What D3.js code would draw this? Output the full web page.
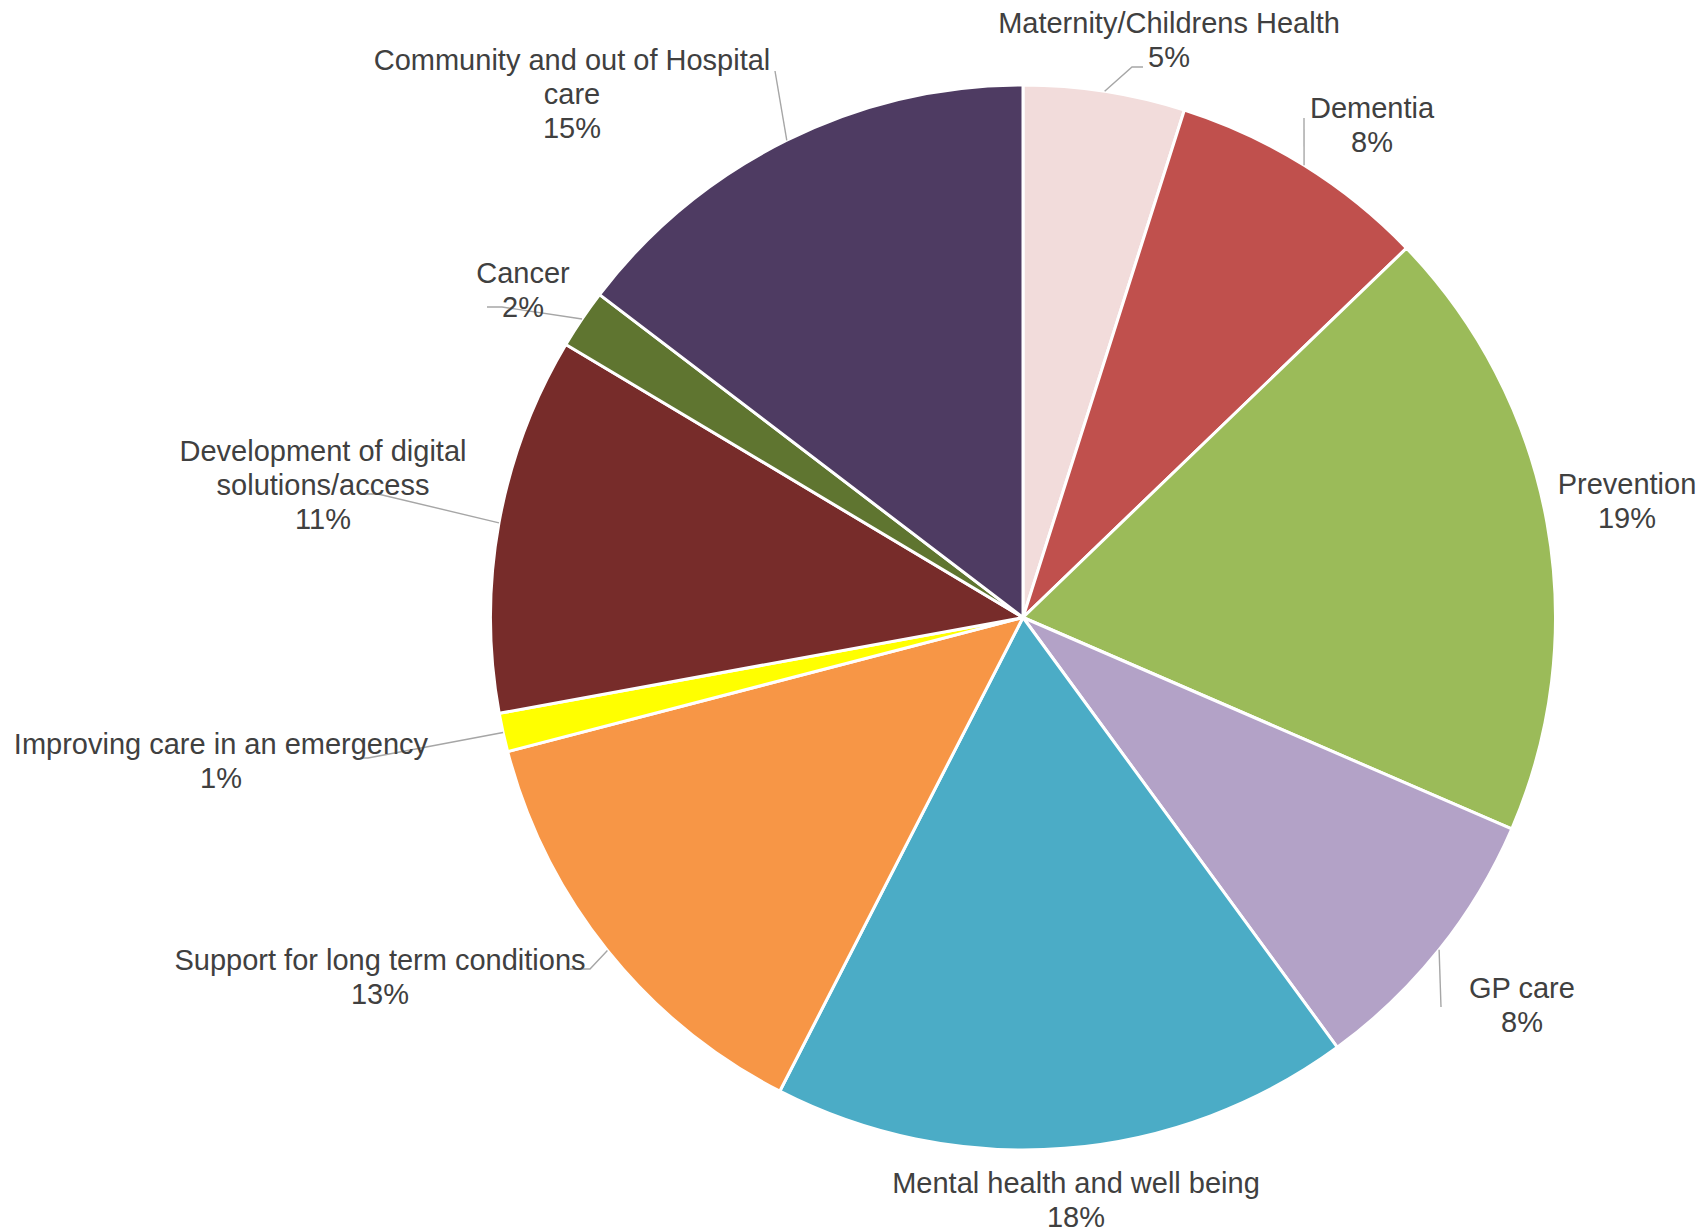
<!DOCTYPE html>
<html>
<head>
<meta charset="utf-8">
<script src="https://cdn.jsdelivr.net/npm/d3@7"></script>
<style>
  html, body { margin: 0; padding: 0; background: #ffffff; }
  svg { display: block; }
</style>
</head>
<body>
<svg id="chart" width="1703" height="1232"></svg>
<script>
// ---- data ----
const categories = [
  "Maternity/Childrens Health",
  "Dementia",
  "Prevention",
  "GP care",
  "Mental health and well being",
  "Support for long term conditions",
  "Improving care in an emergency",
  "Development of digital solutions/access",
  "Cancer",
  "Community and out of Hospital care"
];
const values = [4.9, 7.9, 18.7, 8.45, 17.6, 13.4, 1.17, 11.45, 1.8, 14.63];
const colors = ["#F2DCDB", "#C0504D", "#9BBB59", "#B3A2C7", "#4BACC6",
                "#F79646", "#FFFF00", "#772C2A", "#5F7530", "#4E3B62"];
const labelLines = [
  ["Maternity/Childrens Health"],
  ["Dementia"],
  ["Prevention"],
  ["GP care"],
  ["Mental health and well being"],
  ["Support for long term conditions"],
  ["Improving care in an emergency"],
  ["Development of digital", "solutions/access"],
  ["Cancer"],
  ["Community and out of Hospital", "care"]
];

// ---- layout (label anchors: centre x, first baseline y) ----
const labelAnchors = [
  [1169, 33], [1372, 118], [1627, 494], [1522, 998], [1076, 1193],
  [380, 970], [221, 754], [323, 461], [523, 283], [572, 70]
];
// leader lines: list of points after the slice-edge point (null = none)
const leaderPaths = [
  [[1132, 67], [1143, 67]],
  [[1304, 118]],
  null,
  [[1441, 1007]],
  null,
  [[590, 969], [570, 969]],
  [[368, 758], [360, 758]],
  [[378, 494], [360, 494]],
  [[502, 307], [487, 307]],
  [[775, 71]]
];

const W = 1703, H = 1232;
const cx = 1023, cy = 617.5, R = 532.5;
const fontSize = 29, lineH = 34;

const svg = d3.select("#chart");
const total = d3.sum(values);
const data = categories.map((c, i) => ({ name: c, value: values[i], i }));

const pie = d3.pie().value(d => d.value).sort(null);
const arcs = pie(data);
const arc = d3.arc().innerRadius(0).outerRadius(R);

const g = svg.append("g").attr("transform", `translate(${cx},${cy})`);
g.selectAll("path.slice")
  .data(arcs)
  .enter().append("path")
  .attr("class", "slice")
  .attr("d", arc)
  .attr("fill", d => colors[d.data.i])
  .attr("stroke", "#ffffff")
  .attr("stroke-width", 3)
  .attr("stroke-linejoin", "round");

// leader lines
const line = d3.line();
arcs.forEach(a => {
  const pts = leaderPaths[a.data.i];
  if (!pts) return;
  const mid = (a.startAngle + a.endAngle) / 2;
  const start = [cx + R * Math.sin(mid), cy - R * Math.cos(mid)];
  svg.append("path")
    .attr("d", line([start, ...pts]))
    .attr("fill", "none")
    .attr("stroke", "#A6A6A6")
    .attr("stroke-width", 1.4);
});

// labels
const pct = v => Math.round(v / total * 100) + "%";
arcs.forEach(a => {
  const i = a.data.i;
  const [x, y] = labelAnchors[i];
  const lines = labelLines[i].concat([pct(a.data.value)]);
  const t = svg.append("text")
    .attr("x", x).attr("y", y)
    .attr("text-anchor", "middle")
    .attr("font-family", "Liberation Sans, Arial, sans-serif")
    .attr("font-size", fontSize)
    .attr("fill", "#404040");
  lines.forEach((l, k) => {
    t.append("tspan").attr("x", x).attr("y", y + k * lineH).text(l);
  });
});
</script>
</body>
</html>
